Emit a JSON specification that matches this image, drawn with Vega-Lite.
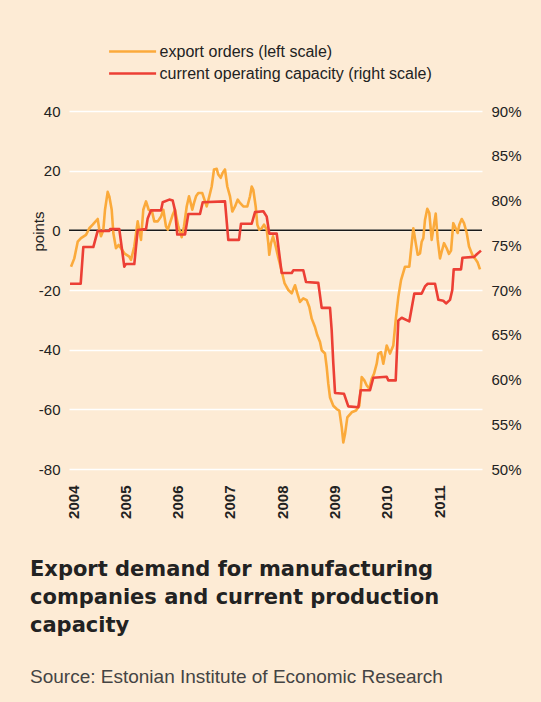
{
  "$schema": "https://vega.github.io/schema/vega-lite/v6.json",
  "width": 413,
  "height": 358,
  "autosize": {"type": "none"},
  "padding": {"left": 69, "top": 111, "right": 59, "bottom": 233},
  "background": "#FDEBD5",
  "config": {"view": {"stroke": null}, "font": "Liberation Sans"},
  "title": {
    "text": ["Export demand for manufacturing", "companies and current production", "capacity"],
    "orient": "bottom",
    "anchor": "start",
    "frame": "group",
    "dx": -39,
    "offset": 41,
    "font": "DejaVu Sans",
    "fontSize": 21,
    "fontWeight": "bold",
    "color": "#222222",
    "lineHeight": 28,
    "subtitle": "Source: Estonian Institute of Economic Research",
    "subtitleFont": "Liberation Sans",
    "subtitleFontSize": 19,
    "subtitleColor": "#444444",
    "subtitlePadding": 32
  },
  "datasets": {
    "orders": [
      {"year": 2003.962, "value": -12.2}, {"year": 2004.025, "value": -9.4}, {"year": 2004.090, "value": -3.8}, {"year": 2004.153, "value": -2.6}, {"year": 2004.249, "value": -1.5}, {"year": 2004.312, "value": 0.7}, {"year": 2004.377, "value": 1.9}, {"year": 2004.472, "value": 3.8}, {"year": 2004.503, "value": 0.2}, {"year": 2004.535, "value": -2}, {"year": 2004.579, "value": 0}, {"year": 2004.612, "value": 6.9}, {"year": 2004.663, "value": 12.9}, {"year": 2004.694, "value": 11.4}, {"year": 2004.740, "value": 6.9}, {"year": 2004.771, "value": -0.9}, {"year": 2004.822, "value": -6}, {"year": 2004.874, "value": -4.9}, {"year": 2004.918, "value": -6}, {"year": 2004.981, "value": -7.7},
      {"year": 2005.076, "value": -8.8}, {"year": 2005.109, "value": -9.9}, {"year": 2005.172, "value": -5.4}, {"year": 2005.237, "value": 3}, {"year": 2005.300, "value": -3.2}, {"year": 2005.344, "value": 6.9}, {"year": 2005.396, "value": 9.7}, {"year": 2005.447, "value": 6.9}, {"year": 2005.511, "value": 6.3}, {"year": 2005.554, "value": 3}, {"year": 2005.620, "value": 3}, {"year": 2005.683, "value": 4.6}, {"year": 2005.727, "value": 6.9}, {"year": 2005.778, "value": 1.3}, {"year": 2005.811, "value": 0.2}, {"year": 2005.906, "value": 5.2}, {"year": 2005.950, "value": 6.9},
      {"year": 2006.013, "value": 1.3}, {"year": 2006.078, "value": -2.3}, {"year": 2006.122, "value": 1.3}, {"year": 2006.174, "value": 8}, {"year": 2006.218, "value": 11.4}, {"year": 2006.250, "value": 9.2}, {"year": 2006.281, "value": 6.9}, {"year": 2006.314, "value": 9.2}, {"year": 2006.352, "value": 11.4}, {"year": 2006.396, "value": 12.5}, {"year": 2006.472, "value": 12.5}, {"year": 2006.524, "value": 9.7}, {"year": 2006.556, "value": 8}, {"year": 2006.606, "value": 11.4}, {"year": 2006.652, "value": 14.7}, {"year": 2006.696, "value": 20.4}, {"year": 2006.748, "value": 20.6}, {"year": 2006.778, "value": 18.7}, {"year": 2006.824, "value": 17.6}, {"year": 2006.862, "value": 19.3}, {"year": 2006.906, "value": 20.4}, {"year": 2006.950, "value": 14.7},
      {"year": 2007.002, "value": 11.4}, {"year": 2007.046, "value": 6.3}, {"year": 2007.098, "value": 8}, {"year": 2007.149, "value": 10.3}, {"year": 2007.193, "value": 9.2}, {"year": 2007.256, "value": 8}, {"year": 2007.333, "value": 8}, {"year": 2007.384, "value": 11.4}, {"year": 2007.417, "value": 14.7}, {"year": 2007.447, "value": 13.6}, {"year": 2007.493, "value": 8}, {"year": 2007.524, "value": 1.9}, {"year": 2007.562, "value": 0.2}, {"year": 2007.608, "value": 0.7}, {"year": 2007.652, "value": 1.9}, {"year": 2007.704, "value": 0.2}, {"year": 2007.734, "value": -4.3}, {"year": 2007.753, "value": -8.2}, {"year": 2007.786, "value": -4.3}, {"year": 2007.824, "value": -2}, {"year": 2007.876, "value": -5.4}, {"year": 2007.920, "value": -8.8}, {"year": 2007.985, "value": -13.3},
      {"year": 2008.046, "value": -17.8}, {"year": 2008.117, "value": -20}, {"year": 2008.182, "value": -21.1}, {"year": 2008.245, "value": -18.4}, {"year": 2008.289, "value": -21.1}, {"year": 2008.340, "value": -24}, {"year": 2008.403, "value": -22.8}, {"year": 2008.468, "value": -23.4}, {"year": 2008.518, "value": -25.7}, {"year": 2008.564, "value": -29.6}, {"year": 2008.627, "value": -32.4}, {"year": 2008.671, "value": -35.2}, {"year": 2008.723, "value": -37.4}, {"year": 2008.755, "value": -40.2}, {"year": 2008.818, "value": -41.3}, {"year": 2008.851, "value": -45.9}, {"year": 2008.881, "value": -51.4}, {"year": 2008.914, "value": -56}, {"year": 2008.977, "value": -58.8},
      {"year": 2009.042, "value": -59.9}, {"year": 2009.092, "value": -60.4}, {"year": 2009.138, "value": -66}, {"year": 2009.168, "value": -71.1}, {"year": 2009.201, "value": -68.3}, {"year": 2009.245, "value": -62.7}, {"year": 2009.329, "value": -61}, {"year": 2009.411, "value": -60.4}, {"year": 2009.474, "value": -58.8}, {"year": 2009.520, "value": -49.2}, {"year": 2009.570, "value": -50.3}, {"year": 2009.616, "value": -52}, {"year": 2009.665, "value": -53.1}, {"year": 2009.711, "value": -49.8}, {"year": 2009.755, "value": -48.1}, {"year": 2009.807, "value": -44.7}, {"year": 2009.837, "value": -41.3}, {"year": 2009.889, "value": -40.8}, {"year": 2009.933, "value": -44.7}, {"year": 2009.998, "value": -38.6},
      {"year": 2010.061, "value": -41.3}, {"year": 2010.124, "value": -38.6}, {"year": 2010.170, "value": -30.1}, {"year": 2010.220, "value": -22.3}, {"year": 2010.272, "value": -16.7}, {"year": 2010.348, "value": -12.2}, {"year": 2010.430, "value": -12.2}, {"year": 2010.463, "value": -6.6}, {"year": 2010.507, "value": 0.7}, {"year": 2010.553, "value": -4.3}, {"year": 2010.591, "value": -8.2}, {"year": 2010.635, "value": -7.7}, {"year": 2010.667, "value": -3.8}, {"year": 2010.698, "value": -2.6}, {"year": 2010.730, "value": 3.5}, {"year": 2010.774, "value": 7.2}, {"year": 2010.813, "value": 5.8}, {"year": 2010.858, "value": -3.2}, {"year": 2010.902, "value": 1.9}, {"year": 2010.935, "value": 5.6}, {"year": 2010.973, "value": -3.2},
      {"year": 2011.017, "value": -9.4}, {"year": 2011.050, "value": -7.1}, {"year": 2011.094, "value": -4.3}, {"year": 2011.145, "value": -6}, {"year": 2011.189, "value": -7.9}, {"year": 2011.228, "value": -6.8}, {"year": 2011.271, "value": 2.4}, {"year": 2011.317, "value": 0.7}, {"year": 2011.356, "value": -0.9}, {"year": 2011.386, "value": 1.9}, {"year": 2011.432, "value": 3.8}, {"year": 2011.476, "value": 2.4}, {"year": 2011.528, "value": -0.9}, {"year": 2011.572, "value": -5.4}, {"year": 2011.635, "value": -8.2}, {"year": 2011.685, "value": -9.4}, {"year": 2011.737, "value": -10.8}, {"year": 2011.782, "value": -13.1}
    ],
    "capacity": [
      {"year": 2003.943, "value": 70.7}, {"year": 2004.147, "value": 70.7}, {"year": 2004.197, "value": 74.8}, {"year": 2004.388, "value": 74.8}, {"year": 2004.472, "value": 76.6}, {"year": 2004.694, "value": 76.6}, {"year": 2004.710, "value": 76.8}, {"year": 2004.885, "value": 76.8}, {"year": 2004.981, "value": 72.6}, {"year": 2005.010, "value": 72.9}, {"year": 2005.172, "value": 72.9}, {"year": 2005.237, "value": 76.7}, {"year": 2005.396, "value": 76.8}, {"year": 2005.428, "value": 78}, {"year": 2005.491, "value": 78.9}, {"year": 2005.683, "value": 78.9}, {"year": 2005.715, "value": 79.8}, {"year": 2005.841, "value": 80.1}, {"year": 2005.906, "value": 80}, {"year": 2005.950, "value": 78.9}, {"year": 2005.994, "value": 76.2},
      {"year": 2006.141, "value": 76.2}, {"year": 2006.205, "value": 78.5}, {"year": 2006.428, "value": 78.5}, {"year": 2006.480, "value": 79.8}, {"year": 2006.906, "value": 79.9}, {"year": 2006.969, "value": 75.6}, {"year": 2007.174, "value": 75.6}, {"year": 2007.212, "value": 77.4}, {"year": 2007.417, "value": 77.4}, {"year": 2007.480, "value": 78.7}, {"year": 2007.639, "value": 78.8}, {"year": 2007.704, "value": 78.2}, {"year": 2007.753, "value": 76.3}, {"year": 2007.895, "value": 76.3}, {"year": 2007.990, "value": 71.9},
      {"year": 2008.182, "value": 71.9}, {"year": 2008.212, "value": 72.2}, {"year": 2008.403, "value": 72.2}, {"year": 2008.455, "value": 70.9}, {"year": 2008.690, "value": 70.8}, {"year": 2008.755, "value": 68}, {"year": 2008.914, "value": 68}, {"year": 2008.946, "value": 65.5}, {"year": 2008.977, "value": 61.8}, {"year": 2009.010, "value": 58.5}, {"year": 2009.182, "value": 58.4}, {"year": 2009.264, "value": 57}, {"year": 2009.455, "value": 56.9}, {"year": 2009.501, "value": 58.8}, {"year": 2009.679, "value": 58.8}, {"year": 2009.742, "value": 60.2}, {"year": 2009.998, "value": 60.3},
      {"year": 2010.029, "value": 59.9}, {"year": 2010.170, "value": 59.9}, {"year": 2010.189, "value": 62.5}, {"year": 2010.220, "value": 66.6}, {"year": 2010.285, "value": 66.9}, {"year": 2010.430, "value": 66.5}, {"year": 2010.476, "value": 68}, {"year": 2010.526, "value": 69.6}, {"year": 2010.667, "value": 69.6}, {"year": 2010.730, "value": 70.4}, {"year": 2010.782, "value": 70.7}, {"year": 2010.922, "value": 70.7}, {"year": 2010.985, "value": 68.9},
      {"year": 2011.080, "value": 68.8}, {"year": 2011.132, "value": 68.5}, {"year": 2011.208, "value": 68.9}, {"year": 2011.252, "value": 70}, {"year": 2011.279, "value": 72.3}, {"year": 2011.419, "value": 72.3}, {"year": 2011.446, "value": 73.6}, {"year": 2011.669, "value": 73.7}, {"year": 2011.721, "value": 74}, {"year": 2011.801, "value": 74.4}
    ]
  },
  "layer": [
    {
      "data": {"values": [{"level": 0}]},
      "mark": {"type": "rule", "color": "#1a1a1a", "strokeWidth": 1.5},
      "encoding": {
        "y": {"field": "level", "type": "quantitative", "scale": {"domain": [-80, 40], "nice": false}, "axis": null}
      }
    },
    {
      "data": {"name": "orders"},
      "mark": {"type": "line", "strokeWidth": 2.6, "strokeJoin": "round"},
      "encoding": {
        "x": {
          "field": "year", "type": "quantitative",
          "scale": {"domain": [2003.9235, 2011.82], "nice": false, "zero": false},
          "axis": {
            "values": [2004, 2005, 2006, 2007, 2008, 2009, 2010, 2011],
            "format": "d", "labelAngle": -90, "labelFontWeight": "bold", "labelFontSize": 15,
            "labelColor": "#222222", "labelPadding": 16, "ticks": false, "domain": false, "grid": false, "title": null
          }
        },
        "y": {
          "field": "value", "type": "quantitative",
          "scale": {"domain": [-80, 40], "nice": false},
          "axis": {
            "values": [-80, -60, -40, -20, 0, 20, 40],
            "labelExpr": "'' + datum.value",
            "labelFontSize": 15, "labelColor": "#222222", "labelPadding": 9,
            "ticks": false, "domain": false, "grid": true, "gridColor": "#ffffff", "gridWidth": 1.5,
            "title": "points", "titleFontSize": 15, "titleFontWeight": "normal", "titleColor": "#222222",
            "titleX": -31, "titleY": 120, "titleAngle": -90, "titleAlign": "center", "titleBaseline": "middle"
          }
        },
        "color": {
          "datum": "export orders (left scale)",
          "scale": {
            "domain": ["export orders (left scale)", "current operating capacity (right scale)"],
            "range": ["#FBAA3B", "#EC3F35"]
          },
          "legend": {
            "orient": "none", "legendX": 55.6, "legendY": -67.5, "direction": "vertical",
            "title": null, "symbolType": "M-4,0H4", "symbolSize": 138, "symbolStrokeWidth": 2.6,
            "symbolFillColor": "transparent",
            "labelFontSize": 16, "labelColor": "#222222", "labelOffset": 19, "labelLimit": 500,
            "rowPadding": 6, "padding": 0
          }
        }
      }
    },
    {
      "data": {"name": "capacity"},
      "mark": {"type": "line", "strokeWidth": 2.6, "strokeJoin": "round"},
      "encoding": {
        "x": {"field": "year", "type": "quantitative"},
        "y": {
          "field": "value", "type": "quantitative",
          "scale": {"domain": [50, 90], "nice": false, "zero": false},
          "axis": {
            "orient": "right", "values": [50, 55, 60, 65, 70, 75, 80, 85, 90],
            "labelExpr": "datum.value + '%'", "labelFontSize": 15, "labelColor": "#222222", "labelPadding": 9,
            "ticks": false, "domain": false, "grid": false, "title": null
          }
        },
        "color": {"datum": "current operating capacity (right scale)"}
      }
    }
  ],
  "resolve": {"scale": {"y": "independent"}}
}
